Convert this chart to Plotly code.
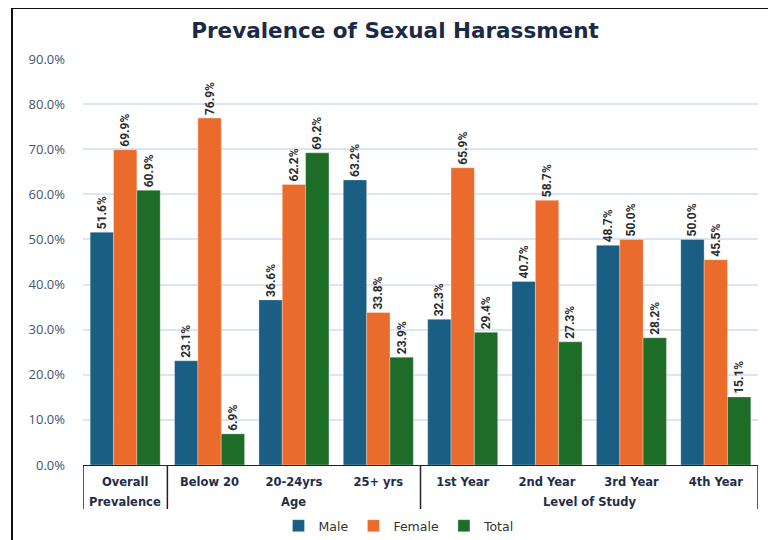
import plotly.graph_objects as go

categories = ["Overall", "Below 20", "20-24yrs", "25+ yrs",
              "1st Year", "2nd Year", "3rd Year", "4th Year"]
group_names = ["Prevalence", "Age", "Level of Study"]
group_sizes = [1, 3, 4]
male = [51.6, 23.1, 36.6, 63.2, 32.3, 40.7, 48.7, 50.0]
female = [69.9, 76.9, 62.2, 33.8, 65.9, 58.7, 50.0, 45.5]
total = [60.9, 6.9, 69.2, 23.9, 29.4, 27.3, 28.2, 15.1]
y_ticks = [0, 10, 20, 30, 40, 50, 60, 70, 80, 90]

series = [("Male", male, "#1a5e84"), ("Female", female, "#eb6b2c"), ("Total", total, "#1d6d28")]

label_font = dict(family="Roboto, Liberation Sans Narrow, sans-serif",
                  size=12, color="#2b2b2b", weight="bold")
cat_font = dict(family="DejaVu Sans, sans-serif", size=11.5, color="#1f2d4a", weight="bold")

fig = go.Figure()
for name, vals, col in series:
    fig.add_trace(go.Bar(
        name=name, x=categories, y=vals,
        marker=dict(color=col, line=dict(color="rgba(255,255,255,0.6)", width=0.5)),
        text=[f"{v:.1f}%" for v in vals], textposition="outside", textangle=-90,
        textfont=label_font, cliponaxis=False, constraintext="none",
    ))

# page has an 8px body margin; positions below are in reference-image pixels
OFF = 8
W, H = 776 - OFF, 540 - OFF
L, R, T, B = 83 - OFF, 18, 59 - OFF, 75
pw, ph = W - L - R, H - T - B

def px(x):
    return (x - OFF - L) / pw

def py(y):
    return (H - B - (y - OFF)) / ph

# outer frame
fig.add_shape(type="rect", xref="paper", yref="paper",
              x0=px(12), x1=px(800), y0=py(570), y1=py(8),
              line=dict(color="#111111", width=2), fillcolor="rgba(0,0,0,0)", layer="above")

# group dividers and group labels
start = 0
bounds = [-0.5]
for gname, gsize in zip(group_names, group_sizes):
    center = start + (gsize - 1) / 2
    fig.add_annotation(x=center, xref="x", y=py(502), yref="paper", text=gname,
                       showarrow=False, yanchor="middle", font=cat_font)
    start += gsize
    bounds.append(start - 0.5)
for b in bounds:
    fig.add_shape(type="line", xref="x", yref="paper", x0=b, x1=b, y0=0, y1=py(509),
                  line=dict(color="#222222", width=1.5))

fig.update_layout(
    width=W, height=H,
    margin=dict(l=L, r=R, t=T, b=B, autoexpand=False),
    paper_bgcolor="white", plot_bgcolor="white",
    barmode="group", bargap=0.17, bargroupgap=0,
    title=dict(text="<b>Prevalence of Sexual Harassment</b>", x=(395 - OFF) / W, xref="container",
               xanchor="center", y=1 - (30 - OFF) / H, yanchor="middle",
               font=dict(family="DejaVu Sans, sans-serif", size=21.5, color="#1b2a47")),
    showlegend=True,
    legend=dict(orientation="h", x=px(399), xanchor="center", xref="paper",
                y=py(526), yanchor="middle",
                font=dict(family="DejaVu Sans, sans-serif", size=12.5, color="#333333"),
                itemwidth=30, traceorder="normal"),
)

fig.update_xaxes(
    automargin=False, showline=True, linecolor="#222222", linewidth=1,
    range=[-0.5, 7.5], tickfont=cat_font,
    ticks="", showgrid=False, ticklabelstandoff=6,
)
fig.update_yaxes(
    automargin=False,
    range=[0, 90], tickvals=y_ticks, ticktext=[f"{v:.1f}%" for v in y_ticks],
    showgrid=True, gridcolor="#dbe6f3", gridwidth=1.5, zeroline=False,
    tickfont=dict(family="Open Sans, sans-serif", size=13, color="#44546a"),
    ticklabelstandoff=17,
)

fig.write_html("out.html")
